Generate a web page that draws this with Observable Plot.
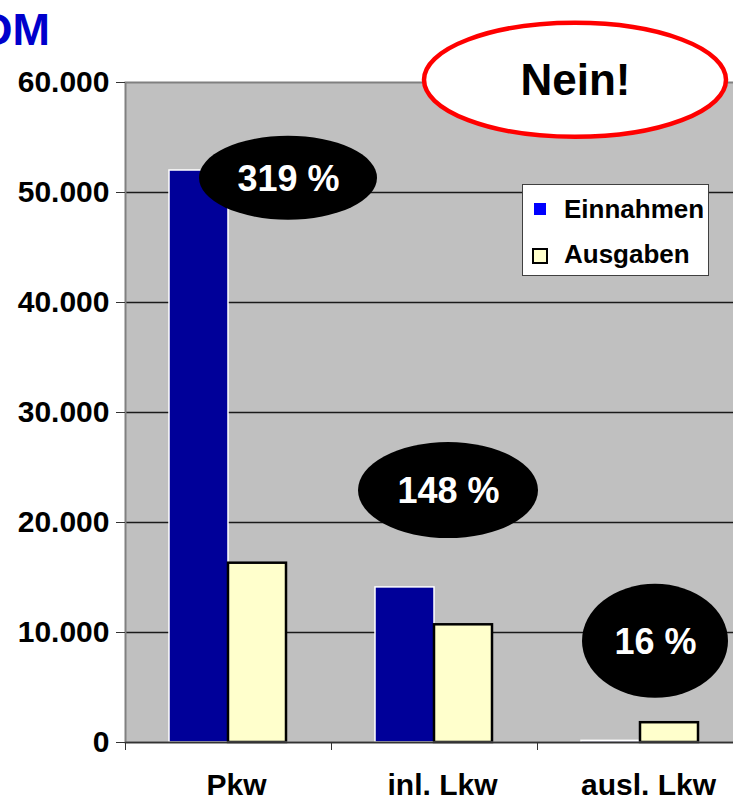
<!DOCTYPE html>
<html>
<head>
<meta charset="utf-8">
<script src="https://cdn.jsdelivr.net/npm/d3@7"></script>
<script src="https://cdn.jsdelivr.net/npm/@observablehq/plot@0.6"></script>
<style>
  html, body { margin: 0; padding: 0; background: #fff; overflow: hidden; }
  #wrap { position: relative; width: 733px; height: 802px; overflow: hidden;
          font-family: "Liberation Sans", Arial, sans-serif; }
  #title { position: absolute; left: -20px; top: 7px; font-size: 45px; line-height: 45px;
           font-weight: bold; color: #0000cc; white-space: nowrap; }
  #legend { position: absolute; left: 522px; top: 184px; width: 187px; height: 92px;
            box-sizing: border-box; background: #fff; border: 1px solid #404040; }
  #legend .sw { position: absolute; box-sizing: border-box; }
  #legend .lab { position: absolute; font-size: 26px; line-height: 26px; font-weight: bold; color: #000; white-space: nowrap; }
  svg { display: block; }
</style>
</head>
<body>
<div id="wrap">
  <div id="chart"></div>
  <div id="title"></div>
  <div id="legend"></div>
</div>
<script>
// ---------- data ----------
const categories = ["Pkw", "inl. Lkw", "ausl. Lkw"];
const seriesNames = ["Einnahmen", "Ausgaben"];
const einnahmen = [52000, 14100, 150];
const ausgaben = [16300, 10700, 1800];
const yTicks = [0, 10000, 20000, 30000, 40000, 50000, 60000];
const titleText = "DM";
// percentage callouts (category + value level they sit at)
const annLabels = ["319 %", "148 %", "16 %"];
const annCategory = ["Pkw", "inl. Lkw", "ausl. Lkw"];
const annLevel = [51300, 22900, 9200];
const calloutText = "Nein!";
const calloutCategory = "ausl. Lkw";
const calloutLevel = 60200;

// ---------- geometry / style (not data) ----------
const annDx = [60, 14, 15];
const annRx = [89, 90, 73];
const annRy = [42, 48, 57];
const calloutDx = -65, calloutRx = 151, calloutRy = 57;
const colEin = "#000099", colAus = "#ffffcc";

const rows = categories.map((c, i) => ({cat: c, ein: einnahmen[i], aus: ausgaben[i]}));
const anns = annLabels.map((t, i) => ({text: t, cat: annCategory[i], v: annLevel[i], dx: annDx[i], rx: annRx[i], ry: annRy[i]}));
const callout = [{text: calloutText, cat: calloutCategory, v: calloutLevel, dx: calloutDx, rx: calloutRx, ry: calloutRy}];

const deFmt = d => d3.format(",")(d).replace(/,/g, ".");

function ellipseMark(items, fill, stroke, strokeWidth) {
  return (index, scales, values, dims) => {
    const x = scales.x, y = scales.y;
    const bw = (typeof x.bandwidth === "function") ? x.bandwidth()
      : (dims.width - dims.marginLeft - dims.marginRight) / categories.length;
    const g = d3.create("svg:g");
    g.selectAll("ellipse").data(items).join("ellipse")
      .attr("cx", d => x(d.cat) + bw / 2 + d.dx)
      .attr("cy", d => y(d.v))
      .attr("rx", d => d.rx)
      .attr("ry", d => d.ry)
      .attr("fill", fill)
      .attr("stroke", stroke)
      .attr("stroke-width", strokeWidth);
    return g.node();
  };
}

const chart = Plot.plot({
  width: 733,
  height: 802,
  marginTop: 82,
  marginBottom: 60,
  marginLeft: 125,
  marginRight: -10,
  style: {fontFamily: "Liberation Sans, Arial, sans-serif", color: "#000", background: "transparent", overflow: "hidden"},
  x: {domain: categories, padding: 0, label: null},
  y: {domain: [0, 60000], label: null},
  marks: [
    Plot.frame({fill: "#c0c0c0"}),
    Plot.ruleY(yTicks.filter(d => d > 0 && d < 60000), {stroke: "#1a1a1a", strokeWidth: 1.3}),
    Plot.barY(rows, {x: "cat", y: "ein", fill: colEin, stroke: "#fff", strokeWidth: 1.5, insetLeft: 44, insetRight: 103}),
    Plot.barY(rows, {x: "cat", y: "aus", fill: colAus, stroke: "#000", strokeWidth: 2.5, insetLeft: 103, insetRight: 45}),
    Plot.frame({stroke: "#808080", strokeWidth: 2}),
    Plot.ruleY([0], {stroke: "#333", strokeWidth: 1.5}),
    Plot.axisY({ticks: yTicks, tickFormat: deFmt, tickSize: 9, tickPadding: 7, fontSize: 30, fontWeight: "bold", stroke: "#333", label: null}),
    Plot.axisX({tickSize: 8, dx: -103, tickFormat: () => "", stroke: "#333", label: null}),
    Plot.axisX({tickSize: 0, tickPadding: 31, dx: 8, fontSize: 30, fontWeight: "bold", label: null}),
    ellipseMark(anns, "#000", "none", 0),
    ...anns.map(a => Plot.text([a], {x: "cat", y: "v", dx: a.dx, dy: 1, text: "text", fill: "#fff", fontSize: 36, fontWeight: "bold"})),
    ellipseMark(callout, "#fff", "#ff0000", 4.5),
    ...callout.map(a => Plot.text([a], {x: "cat", y: "v", dx: a.dx, dy: 1, text: "text", fill: "#000", fontSize: 44, fontWeight: "bold"}))
  ]
});
document.getElementById("chart").appendChild(chart);

document.getElementById("title").textContent = titleText;

// legend
const legend = d3.select("#legend");
legend.append("div").attr("class", "sw")
  .style("left", "11px").style("top", "18px").style("width", "12px").style("height", "12px")
  .style("background", "#0000ff");
legend.append("div").attr("class", "lab").style("left", "41px").style("top", "11px").text(seriesNames[0]);
legend.append("div").attr("class", "sw")
  .style("left", "9px").style("top", "63px").style("width", "16px").style("height", "16px")
  .style("background", colAus).style("border", "2px solid #000");
legend.append("div").attr("class", "lab").style("left", "41px").style("top", "56px").text(seriesNames[1]);
</script>
</body>
</html>
